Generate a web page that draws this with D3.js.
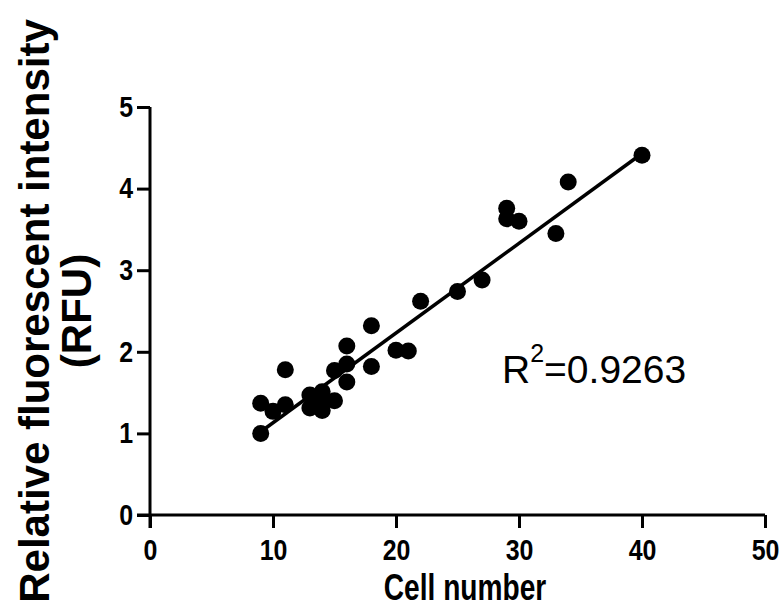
<!DOCTYPE html>
<html>
<head>
<meta charset="utf-8">
<script src="https://cdn.jsdelivr.net/npm/d3@7"></script>
<style>
  body { margin: 0; background: #fff; }
  text { font-family: "Liberation Sans", Arial, sans-serif; font-weight: bold; fill: #000; }
</style>
</head>
<body>
<script>
// cell number vs RFU
var cells = [9, 9, 10, 11, 11, 13, 13, 14, 14, 14, 15, 15, 16, 16, 16, 18, 18, 20, 21, 22, 25, 27, 29, 29, 30, 33, 34, 40];
var rfu   = [1.00, 1.37, 1.27, 1.35, 1.78, 1.47, 1.31, 1.51, 1.28, 1.40, 1.40, 1.77, 1.85, 2.07, 1.63, 2.32, 1.82, 2.02, 2.01, 2.62, 2.74, 2.88, 3.76, 3.63, 3.60, 3.45, 4.08, 4.41];
// fitted line as drawn in the figure
var fitX = [9, 40];
var fitY = [1.02, 4.43];
var xTicks = [0, 10, 20, 30, 40, 50];
var yTicks = [0, 1, 2, 3, 4, 5];
var r2Label = "0.9263";

var width = 781,
    height = 609,
    squeeze = 0.86; // labels in the figure are narrow

var data = cells.map(function(c, i) { return {x: c, y: rfu[i]}; });
var fit = fitX.map(function(v, i) { return {x: v, y: fitY[i]}; });

var x = d3.scaleLinear().domain([0, 50]).range([150, 765]);
var y = d3.scaleLinear().domain([0, 5]).range([515, 107]);

var svg = d3.select("body").append("svg")
    .attr("width", width)
    .attr("height", height);

var xAxis = svg.append("g")
    .attr("transform", "translate(0," + y(0) + ")")
    .call(d3.axisBottom(x).tickValues(xTicks).tickFormat(d3.format("d"))
          .tickSize(13).tickPadding(11).tickSizeOuter(0));
var yAxis = svg.append("g")
    .attr("transform", "translate(" + x(0) + ",0)")
    .call(d3.axisLeft(y).tickValues(yTicks).tickFormat(d3.format("d"))
          .tickSize(13).tickPadding(4).tickSizeOuter(0));

[xAxis, yAxis].forEach(function(g) {
  g.selectAll("path, line").attr("stroke", "#000").attr("stroke-width", 3);
  g.selectAll("text").style("font-size", "29px")
    .attr("transform", "scale(" + squeeze + ",1)");
});
yAxis.selectAll("text").attr("x", -17 / squeeze);
xAxis.select(".domain").attr("d", "M" + (x(0) - 13) + ",0H" + x(50));
yAxis.select(".domain").attr("d", "M0," + y(5) + "V" + (y(0) + 13));

svg.append("path")
    .datum(fit)
    .attr("d", d3.line().x(function(d) { return x(d.x); }).y(function(d) { return y(d.y); }))
    .attr("stroke", "#000")
    .attr("stroke-width", 3.5)
    .attr("fill", "none");

svg.selectAll("circle")
    .data(data)
    .enter()
    .append("circle")
    .attr("cx", function(d) { return x(d.x); })
    .attr("cy", function(d) { return y(d.y); })
    .attr("r", 8.5)
    .attr("fill", "#000");

var r2 = svg.append("text")
    .attr("x", 502)
    .attr("y", 383)
    .style("font-size", "39px")
    .style("font-weight", "normal");
r2.append("tspan").text("R");
r2.append("tspan").attr("dy", -21).style("font-size", "25px").text("2");
r2.append("tspan").attr("dy", 21).text("=" + r2Label);

svg.append("text")
    .attr("transform", "translate(465,600) scale(0.76,1)")
    .attr("text-anchor", "middle")
    .style("font-size", "37px")
    .text("Cell number");

var yt = svg.append("text")
    .attr("transform", "translate(49,311) rotate(-90)")
    .attr("text-anchor", "middle")
    .style("font-size", "42px");
yt.append("tspan").attr("x", 0).attr("y", 0).text("Relative fluorescent intensity");
yt.append("tspan").attr("x", 0).attr("y", 42).text("(RFU)");
</script>
</body>
</html>
